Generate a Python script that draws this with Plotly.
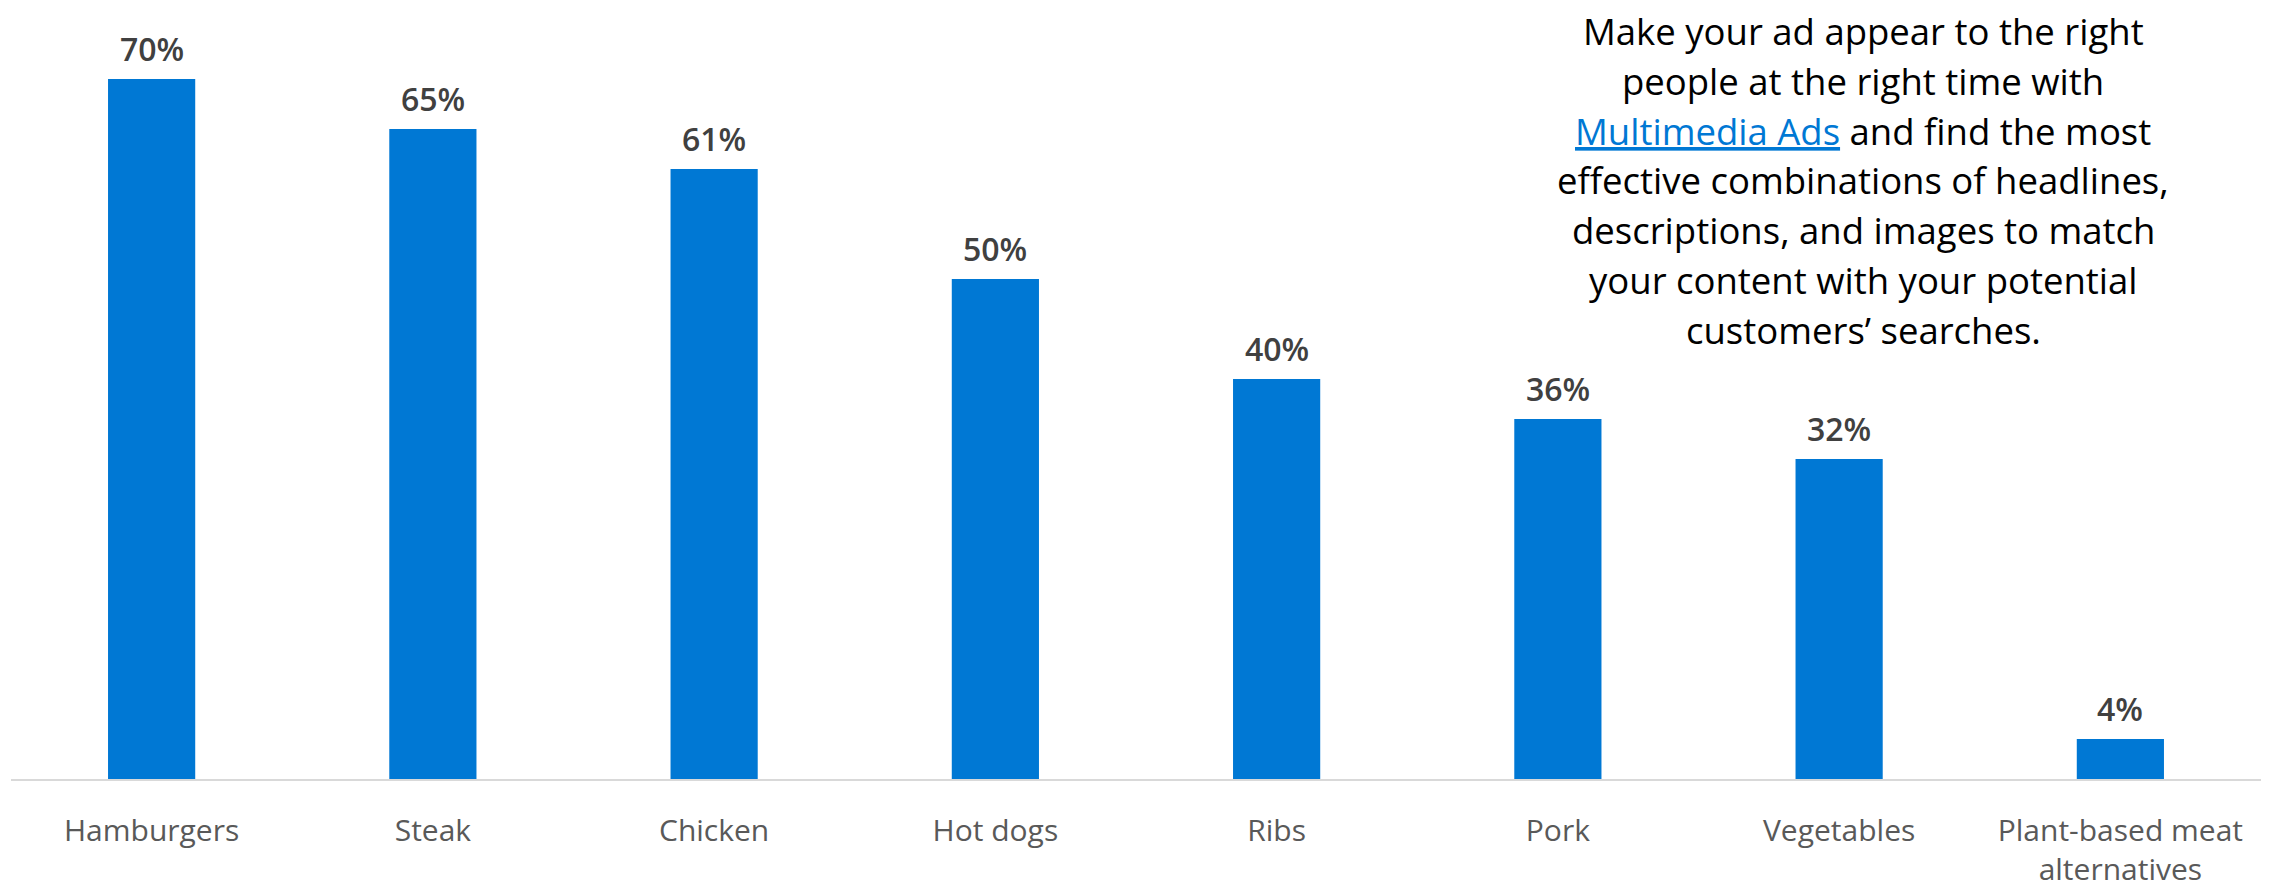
import plotly.graph_objects as go

categories = ["Hamburgers", "Steak", "Chicken", "Hot dogs", "Ribs", "Pork",
              "Vegetables", "Plant-based meat<br>alternatives"]
values = [70, 65, 61, 50, 40, 36, 32, 4]
value_labels = ["70%", "65%", "61%", "50%", "40%", "36%", "32%", "4%"]

note_lines = [
    "Make your ad appear to the right",
    "people at the right time with",
    "<span style='color:#0078D4'><u>Multimedia Ads</u></span> and find the most",
    "effective combinations of headlines,",
    "descriptions, and images to match",
    "your content with your potential",
    "customers\u2019 searches.",
]

W, H = 2272, 883
M_L, M_R, M_T, M_B = 3, 19, 0, 112
PLOT_H = H - M_T - M_B
PLOT_W = W - M_L - M_R

FONT = "Open Sans, Noto Sans, sans-serif"

fig = go.Figure()
fig.add_trace(go.Bar(
    x=categories, y=values,
    marker=dict(color="#0078D4", line=dict(width=0)),
    hoverinfo="skip",
))

annotations = []
for c, v, t in zip(categories, values, value_labels):
    annotations.append(dict(
        x=c, y=v, xref="x", yref="y", text=t, showarrow=False,
        yanchor="bottom", yshift=7,
        font=dict(family=FONT, size=32, color="#404040", weight=600),
    ))

note_cx = 1855
first_cy = 23
line_step = 49.8
for i, line in enumerate(note_lines):
    cy = first_cy + i * line_step
    annotations.append(dict(
        x=(note_cx - M_L) / PLOT_W, y=1 - (cy - M_T) / PLOT_H,
        xref="paper", yref="paper", text=line, showarrow=False,
        xanchor="center", yanchor="middle",
        font=dict(family=FONT, size=36.5, color="#000000"),
    ))

fig.update_layout(
    width=W, height=H,
    margin=dict(l=M_L, r=M_R, t=M_T, b=M_B),
    paper_bgcolor="white", plot_bgcolor="white",
    bargap=0.69,
    showlegend=False,
    annotations=annotations,
    font=dict(family=FONT),
    xaxis=dict(
        showline=True, linecolor="#D9D9D9", linewidth=2,
        showgrid=False, zeroline=False, ticks="",
        tickfont=dict(family=FONT, size=30, color="#595959"),
        ticklabelstandoff=24,
        fixedrange=True,
    ),
    yaxis=dict(
        range=[0, PLOT_H / 10.0], visible=False, showgrid=False, zeroline=False,
        fixedrange=True,
    ),
)

fig.write_html("out.html")
